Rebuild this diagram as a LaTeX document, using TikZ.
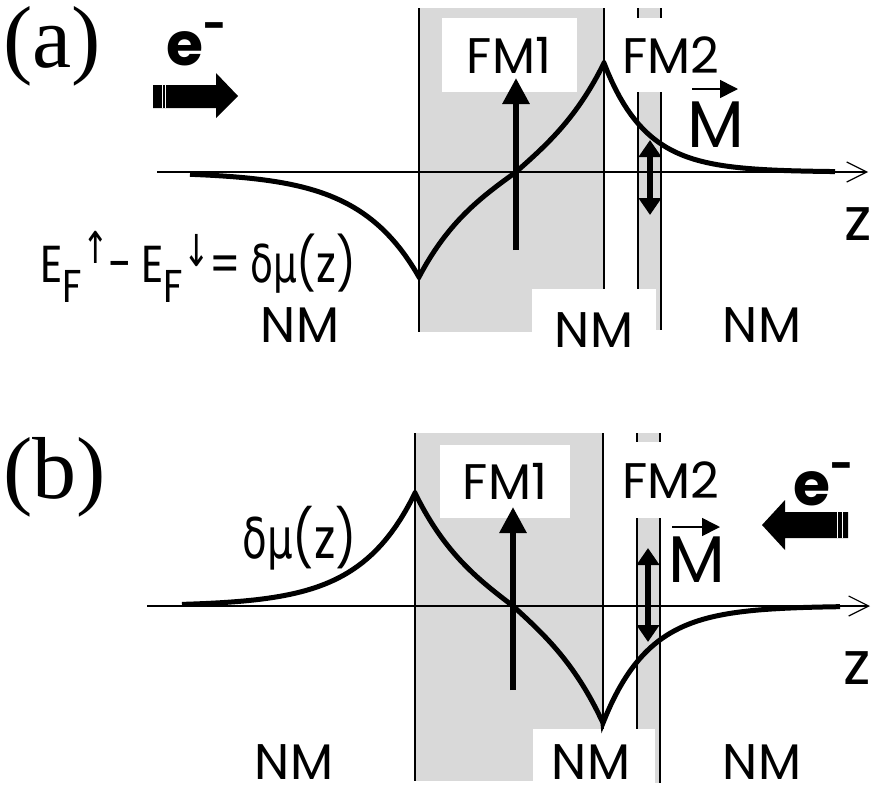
\documentclass[tikz,border=0pt]{standalone}
\usepackage{fontspec}
\setmainfont{Poppins}
\newfontfamily\formfont[FakeStretch=0.84]{Poppins}
\newfontfamily\grk[FakeStretch=0.72]{DejaVu Sans}
\newfontfamily\panelfont{Liberation Serif}
\usetikzlibrary{arrows.meta}

\begin{document}
\begin{tikzpicture}[
    x=0.5pt, y=-0.5pt,
    layer/.style={fill=black!15, draw=none},
    wall/.style={line width=1pt},
    axis/.style={line width=0.6pt, -{Straight Barb[length=10pt, width=10pt]}},
    curve/.style={line width=2.5pt, line join=miter},
    magarrow/.style={line width=3pt, -{Triangle[length=13pt, width=13pt]}},
    swing/.style={line width=3pt, {Triangle[length=8.5pt, width=11pt]}-{Triangle[length=8.5pt, width=11pt]}},
    vecarrow/.style={line width=0.8pt, -{Triangle[length=9pt, width=9pt]}},
    tag/.style={inner sep=0pt, font=\fontsize{25}{25}\selectfont},
    blank/.style={tag, fill=white},
    bottom/.style={tag, anchor=base, text depth=0pt},
    panel/.style={inner sep=0pt, anchor=base west, font=\panelfont\fontsize{44}{44}\selectfont},
    elec/.style={inner sep=0pt, anchor=base west, font=\bfseries\fontsize{30}{30}\selectfont},
    formula/.style={inner sep=0pt, anchor=base west, font=\formfont\fontsize{26}{26}\selectfont}
  ]

  \useasboundingbox (0,0) rectangle (872,793);

  % (a)
  \fill[layer] (419,8) rectangle (604,332);
  \fill[layer] (638,8) rectangle (661,330);
  \draw[wall] (419,8) -- (419,332);
  \draw[wall] (604,8) -- (604,300);
  \draw[wall] (638,8) -- (638,300);
  \draw[wall] (661,8) -- (661,330);

  \node[blank, minimum width=67.5pt, minimum height=37pt] (fm1a) at (509,55) {FM1};
  \node[blank, minimum width=59pt, minimum height=37pt] (fm2a) at (671,55) {FM2};
  \node[blank, minimum width=62pt, minimum height=41pt] (nmba) at (594,330) {NM};
  \node[tag] (nmla) at (300,325) {NM};
  \node[tag] (nmra) at (762,325) {NM};

  \coordinate (axAl) at (157,172);
  \coordinate (axAr) at (868,172);
  \draw[axis] (axAl) -- (axAr);
  \node[tag, font=\fontsize{30}{30}\selectfont] (za) at (858,224) {z};

  \draw[curve] plot[domain=190:419, samples=50] (\x, {172+105*exp((\x-419)/60)})
    -- plot[domain=419:516, samples=40] (\x, {172+105*sinh((516-\x)/60)/sinh(97/60)})
    -- plot[domain=516:604, samples=40] (\x, {172-109*sinh((\x-516)/60)/sinh(88/60)})
    -- plot[domain=604:835, samples=60] (\x, {172-109*exp(-(\x-604)/42)});

  \coordinate (mA1) at (516,250);
  \coordinate (mA2) at (516,78);
  \draw[magarrow] (mA1) -- (mA2);
  \coordinate (sA1) at (650,140);
  \coordinate (sA2) at (650,215);
  \draw[swing] (sA1) -- (sA2);
  \node[tag, font=\fontsize{33}{33}\selectfont] (ma) at (716,125) {M};
  \coordinate (vA1) at (692,89);
  \coordinate (vA2) at (738,89);
  \draw[vecarrow] (vA1) -- (vA2);

  \fill (153,85) -- (216,85) -- (216,73) -- (238,96) -- (216,118) -- (216,108) -- (153,108) -- cycle;
  \draw[white, line width=0.5pt] (162.5,85) -- (162.5,108) (165.5,85) -- (165.5,108);
  \node[elec] (ea) at (166,65) {e\raisebox{0.42em}{\fontsize{20}{20}\selectfont -}};

  \node[panel] (pa) at (3,67) {(a)};
  \node[formula] (efa) at (40,282) {E\raisebox{-0.4em}{\fontsize{23}{23}\selectfont F}\raisebox{0.35em}{\grk\fontsize{22}{22}\selectfont ↑}-\,E\raisebox{-0.4em}{\fontsize{23}{23}\selectfont F}\raisebox{0.3em}{\grk\fontsize{22}{22}\selectfont ↓}=\,{\grk δμ}(z)};

  % (b)
  \fill[layer] (415,433) rectangle (603,781);
  \fill[layer] (637,433) rectangle (660,783);
  \draw[wall] (415,433) -- (415,781);
  \draw[wall] (603,433) -- (603,740);
  \draw[wall] (637,433) -- (637,740);
  \draw[wall] (660,433) -- (660,783);

  \node[blank, minimum width=65pt, minimum height=36.5pt] (fm1b) at (505,481) {FM1};
  \node[blank, minimum width=59pt, minimum height=38pt] (fm2b) at (671,480) {FM2};
  \fill[white] (533,729) rectangle (655,793);
  \node[bottom] (nmbb) at (591,779) {NM};
  \node[bottom] (nmlb) at (294,779) {NM};
  \node[bottom] (nmrb) at (762,779) {NM};

  \coordinate (axBl) at (147,606);
  \coordinate (axBr) at (870,606);
  \draw[axis] (axBl) -- (axBr);
  \node[tag, font=\fontsize{30}{30}\selectfont] (zb) at (857,668) {z};

  \draw[curve] plot[domain=182:415, samples=50] (\x, {606-113*exp((\x-415)/55)})
    -- plot[domain=415:513, samples=40] (\x, {606-113*sinh((513-\x)/60)/sinh(98/60)})
    -- plot[domain=513:603, samples=40] (\x, {606+117*sinh((\x-513)/60)/sinh(90/60)})
    -- plot[domain=603:840, samples=60] (\x, {606+117*exp(-(\x-603)/46)});

  \coordinate (mB1) at (513,690);
  \coordinate (mB2) at (513,507);
  \draw[magarrow] (mB1) -- (mB2);
  \coordinate (sB1) at (648,548);
  \coordinate (sB2) at (648,642);
  \draw[swing] (sB1) -- (sB2);
  \node[tag, font=\fontsize{33}{33}\selectfont] (mb) at (697,560) {M};
  \coordinate (vB1) at (672,527);
  \coordinate (vB2) at (720,527);
  \draw[vecarrow] (vB1) -- (vB2);

  \fill (848,512) -- (785,512) -- (785,500) -- (762,525) -- (785,550) -- (785,538) -- (848,538) -- cycle;
  \draw[white, line width=0.5pt] (837.5,512) -- (837.5,538) (842.5,512) -- (842.5,538);
  \node[elec] (eb) at (793,505) {e\raisebox{0.42em}{\fontsize{20}{20}\selectfont -}};

  \node[panel] (pb) at (3,498) {(b)};
  \node[formula, font=\formfont\fontsize{28}{28}\selectfont] (dmb) at (242,558) {{\grk δμ}(z)};
\end{tikzpicture}
\end{document}
